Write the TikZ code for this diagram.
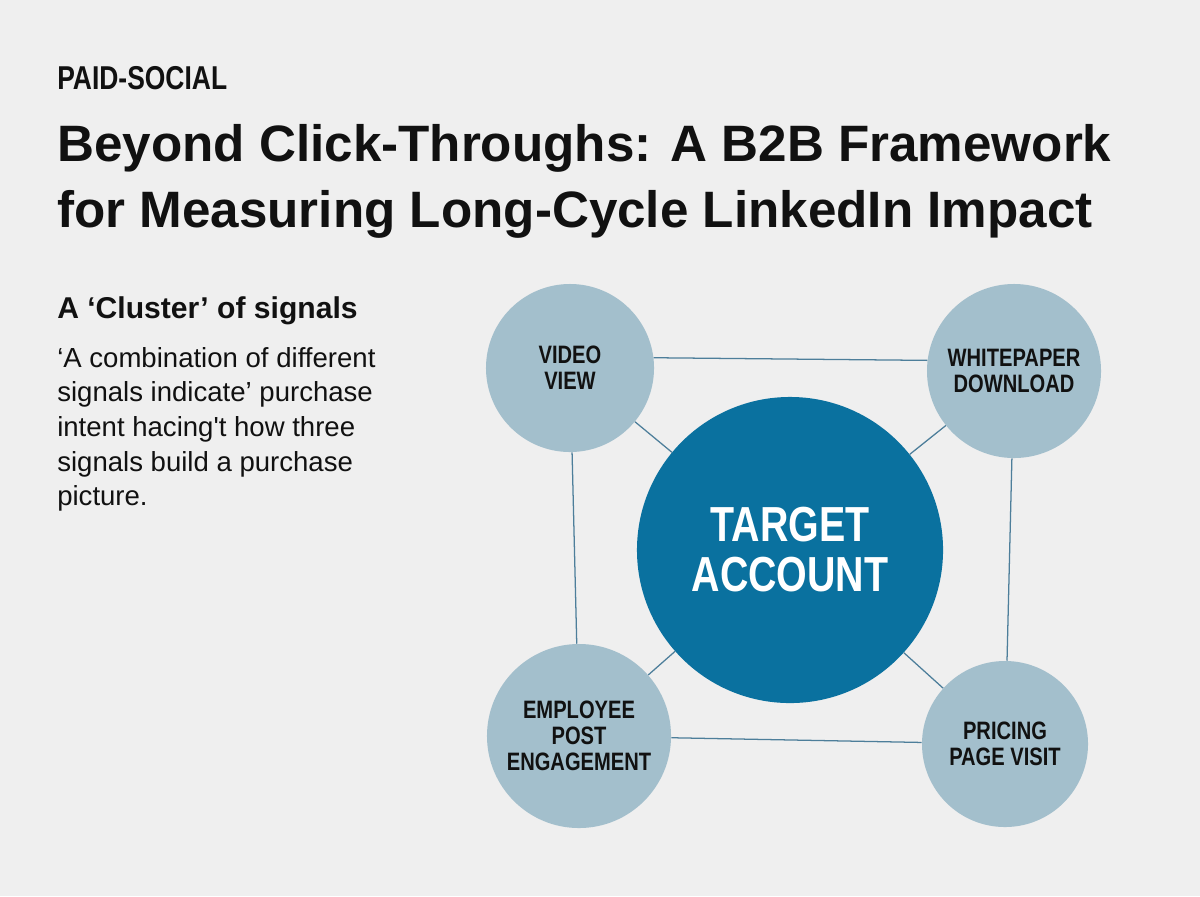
\documentclass[tikz,border=0pt]{standalone}
\usepackage{fontspec}
\setmainfont{Liberation Sans}
\newfontfamily\condfont{Liberation Sans}[FakeStretch=0.8]
\usetikzlibrary{positioning}
\definecolor{pagegray}{HTML}{EFEFEF}
\definecolor{signalblue}{HTML}{A3BFCC}
\definecolor{hubblue}{HTML}{0A719F}
\definecolor{linkblue}{HTML}{4D7E9A}
\definecolor{inkblack}{HTML}{111111}

\begin{document}
\begin{tikzpicture}[x=0.025cm, y=-0.025cm, every node/.style={inner sep=0pt, text=inkblack}]
\tikzstyle{signal}=[circle, fill=signalblue, align=center, font=\condfont\bfseries\fontsize{17.9}{18.4}\selectfont]
\tikzstyle{hub}=[circle, fill=hubblue, align=center, text=white, font=\condfont\bfseries\fontsize{35}{35.6}\selectfont]
\tikzstyle{link}=[draw=linkblue, line width=0.9pt]
\fill[pagegray] (0,0) rectangle (1200,896);
% header text
\node[anchor=base west, font=\condfont\bfseries\fontsize{23.5}{27}\selectfont] (kicker) at (57,89) {PAID-SOCIAL};
\node[anchor=north west, align=left, font=\bfseries\fontsize{36.4}{47}\selectfont] (title) at (57,124.5) {Beyond Click-Throughs: A B2B Framework\\for Measuring Long-Cycle LinkedIn Impact};
\node[anchor=north west, font=\bfseries\fontsize{21.4}{26}\selectfont] (heading) at (57,296) {A ‘Cluster’ of signals};
\node[anchor=north west, align=left, font=\fontsize{19.6}{24.6}\selectfont] (blurb) at (57,347) {‘A combination of different\\signals indicate’ purchase\\intent hacing\textquotesingle t how three\\signals build a purchase\\picture.};
% signal cluster
\node[hub, minimum size=7.65cm] (target) at (790,550) {TARGET\\ACCOUNT};
\node[signal, minimum size=4.2cm] (video) at (570,368) {VIDEO\\VIEW};
\node[signal, minimum size=4.35cm] (paper) at (1014,371) {WHITEPAPER\\DOWNLOAD};
\node[signal, minimum size=4.6cm] (employee) at (579,736) {EMPLOYEE\\POST\\ENGAGEMENT};
\node[signal, minimum size=4.15cm] (pricing) at (1005,744) {PRICING\\PAGE VISIT};
\draw[link] (video.7) -- (paper.173);
\draw[link] (video) -- (employee);
\draw[link] (paper) -- (pricing);
\draw[link] (employee) -- (pricing);
\draw[link] (video) -- (target);
\draw[link] (paper) -- (target);
\draw[link] (employee) -- (target);
\draw[link] (pricing) -- (target);
\end{tikzpicture}
\end{document}
